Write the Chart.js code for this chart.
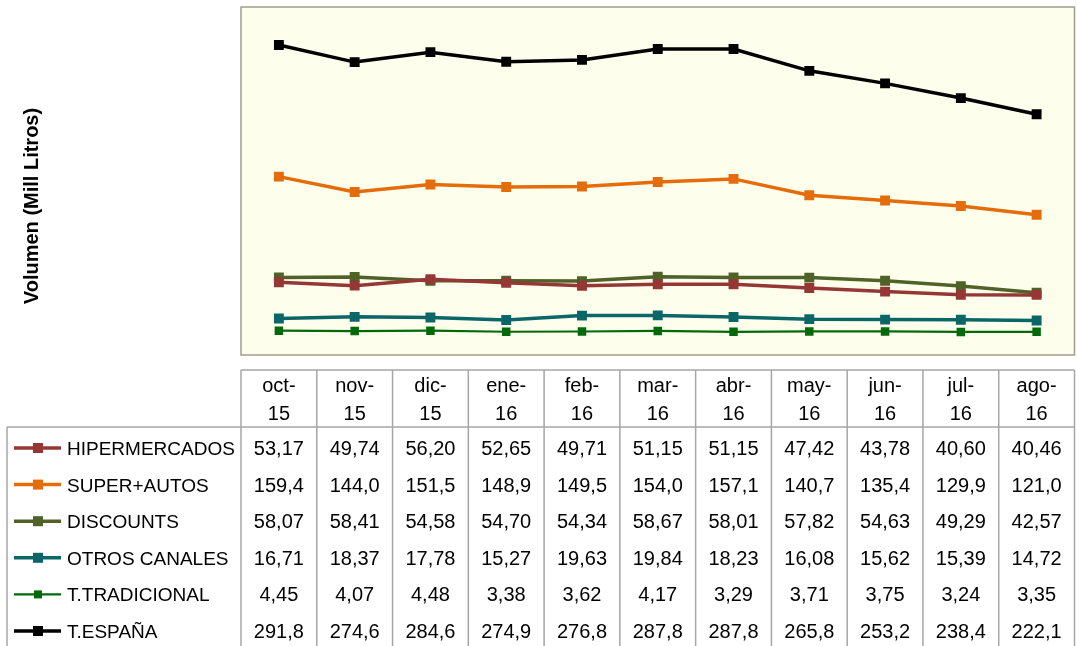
<!DOCTYPE html>
<html>
<head>
<meta charset="utf-8">
<script src="https://cdn.jsdelivr.net/npm/chart.js@4/dist/chart.umd.min.js"></script>
<style>
  html, body { margin: 0; padding: 0; background: #fff; }
  #wrap { width: 1077px; height: 646px; }
</style>
</head>
<body>
<div id="wrap"><canvas id="chart" width="1077" height="646"></canvas></div>
<script>
// Meses (dos líneas en la cabecera de la tabla)
const months = [['oct-', '15'], ['nov-', '15'], ['dic-', '15'], ['ene-', '16'], ['feb-', '16'], ['mar-', '16'],
                ['abr-', '16'], ['may-', '16'], ['jun-', '16'], ['jul-', '16'], ['ago-', '16']];

const hipermercados = [53.17, 49.74, 56.20, 52.65, 49.71, 51.15, 51.15, 47.42, 43.78, 40.60, 40.46];
const superAutos    = [159.4, 144.0, 151.5, 148.9, 149.5, 154.0, 157.1, 140.7, 135.4, 129.9, 121.0];
const discounts     = [58.07, 58.41, 54.58, 54.70, 54.34, 58.67, 58.01, 57.82, 54.63, 49.29, 42.57];
const otrosCanales  = [16.71, 18.37, 17.78, 15.27, 19.63, 19.84, 18.23, 16.08, 15.62, 15.39, 14.72];
const tTradicional  = [4.45, 4.07, 4.48, 3.38, 3.62, 4.17, 3.29, 3.71, 3.75, 3.24, 3.35];
const tEspana       = [291.8, 274.6, 284.6, 274.9, 276.8, 287.8, 287.8, 265.8, 253.2, 238.4, 222.1];

// número de decimales que muestra la tabla para cada serie
const series = [
  { label: 'HIPERMERCADOS',  data: hipermercados, color: '#953735', width: 3.5, dec: 2 },
  { label: 'SUPER+AUTOS',    data: superAutos,    color: '#E46C0A', width: 3.5, dec: 1 },
  { label: 'DISCOUNTS',      data: discounts,     color: '#4F6228', width: 3.5, dec: 2 },
  { label: 'OTROS CANALES',  data: otrosCanales,  color: '#0B6668', width: 3.5, dec: 2 },
  { label: 'T.TRADICIONAL',  data: tTradicional,  color: '#02690B', width: 2.2, dec: 2 },
  { label: 'T.ESPAÑA',       data: tEspana,       color: '#000000', width: 3.5, dec: 1 }
];

const FONT = '"Liberation Sans", Arial, sans-serif';

function fmt(v, dec) {
  return v.toFixed(dec).replace('.', ',');
}

// fondo crema y borde del área de trazado
const plotBackground = {
  id: 'plotBackground',
  beforeDraw(chart) {
    const { ctx, chartArea: a } = chart;
    ctx.save();
    ctx.fillStyle = '#FEFEEC';
    ctx.fillRect(a.left, a.top, a.right - a.left, a.bottom - a.top);
    ctx.restore();
  },
  afterDraw(chart) {
    const { ctx, chartArea: a } = chart;
    ctx.save();
    ctx.strokeStyle = '#A09F8E';
    ctx.lineWidth = 1.5;
    ctx.strokeRect(a.left, a.top, a.right - a.left, a.bottom - a.top);
    ctx.restore();
  }
};

// tabla de datos con la leyenda debajo del gráfico
const dataTable = {
  id: 'dataTable',
  afterDraw(chart) {
    const { ctx, chartArea: a } = chart;
    const xs = chart.scales.x;
    const band = (a.right - a.left) / months.length;
    const headTop = 370, headBottom = 427, tableLeft = 7, bottom = 646;
    const rowBase = 455, rowStep = 36.6;

    ctx.save();
    ctx.strokeStyle = '#A6A6A6';
    ctx.lineWidth = 1.5;
    ctx.beginPath();
    ctx.moveTo(a.left, headTop); ctx.lineTo(a.right, headTop);
    ctx.moveTo(tableLeft, headBottom); ctx.lineTo(a.right, headBottom);
    ctx.moveTo(tableLeft, headBottom); ctx.lineTo(tableLeft, bottom);
    for (let i = 0; i <= months.length; i++) {
      const x = a.left + i * band;
      ctx.moveTo(x, headTop); ctx.lineTo(x, bottom);
    }
    ctx.stroke();

    ctx.fillStyle = '#000';
    ctx.textAlign = 'center';
    ctx.textBaseline = 'alphabetic';
    ctx.font = '20px ' + FONT;
    months.forEach((m, i) => {
      const x = xs.getPixelForValue(i);
      ctx.fillText(m[0], x, 392);
      ctx.fillText(m[1], x, 420);
    });

    series.forEach((s, r) => {
      const base = rowBase + r * rowStep;
      const cy = base - 7;
      // clave de la leyenda
      ctx.strokeStyle = s.color;
      ctx.lineWidth = s.width;
      ctx.beginPath();
      ctx.moveTo(14, cy); ctx.lineTo(61, cy);
      ctx.stroke();
      ctx.fillStyle = s.color;
      const m = s.width > 3 ? 10 : 8;
      ctx.fillRect(38 - m / 2, cy - m / 2, m, m);

      ctx.fillStyle = '#000';
      ctx.textAlign = 'left';
      ctx.font = '19px ' + FONT;
      ctx.fillText(s.label, 67, base);

      ctx.textAlign = 'center';
      ctx.font = '20px ' + FONT;
      s.data.forEach((v, i) => {
        ctx.fillText(fmt(v, s.dec), xs.getPixelForValue(i), base);
      });
    });

    // título del eje vertical
    ctx.translate(32, 206);
    ctx.rotate(-Math.PI / 2);
    ctx.textAlign = 'center';
    ctx.textBaseline = 'middle';
    ctx.font = 'bold 20px ' + FONT;
    ctx.fillText('Volumen (Mill Litros)', 0, 0);
    ctx.restore();
  }
};

new Chart(document.getElementById('chart'), {
  type: 'line',
  data: {
    labels: months.map(m => m.join('')),
    datasets: series.map(s => ({
      label: s.label,
      data: s.data,
      borderColor: s.color,
      backgroundColor: s.color,
      borderWidth: s.width,
      pointStyle: 'rect',
      pointRadius: s.width > 3 ? 7 : 6,
      pointBorderWidth: 0,
      tension: 0,
      fill: false
    }))
  },
  options: {
    responsive: false,
    animation: false,
    layout: { autoPadding: false, padding: { left: 241, right: 2.5, top: 7, bottom: 291 } },
    plugins: { legend: { display: false }, tooltip: { enabled: false } },
    scales: {
      x: { display: false, offset: true },
      y: { display: false, min: -20, max: 330 }
    }
  },
  plugins: [plotBackground, dataTable]
});
</script>
</body>
</html>
